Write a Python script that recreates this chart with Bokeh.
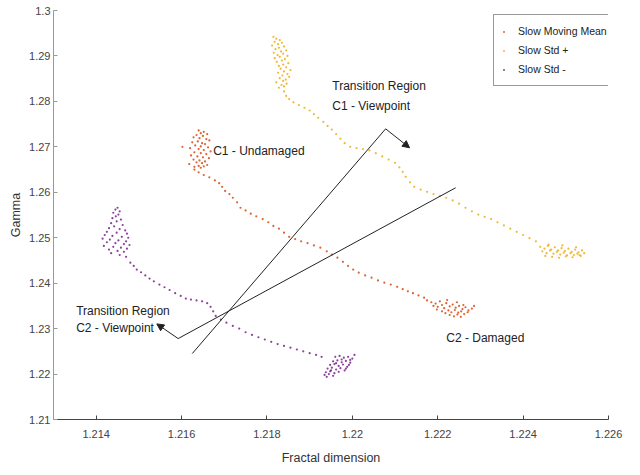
from bokeh.plotting import figure
from bokeh.models import (ColumnDataSource, FixedTicker, CustomJSTickFormatter,
                          Legend, LegendItem, Arrow, NormalHead, Label)
from bokeh.embed import file_html
from bokeh.resources import INLINE

# ---- data: Fractal dimension (x) vs Gamma (y) -----------------------------
# Slow Moving Mean: undamaged cluster, transition trail, damaged cluster
mean_x = [
    1.21640, 1.21652, 1.21645, 1.21660, 1.21635, 1.21650, 1.21628, 1.21642, 1.21658, 1.21665,
    1.21638, 1.21625, 1.21648, 1.21655, 1.21632, 1.21645, 1.21662, 1.21620, 1.21640, 1.21652,
    1.21668, 1.21630, 1.21645, 1.21658, 1.21622, 1.21637, 1.21650, 1.21664, 1.21628, 1.21642,
    1.21655, 1.21635, 1.21648, 1.21618, 1.21660, 1.21640, 1.21652, 1.21630, 1.21645, 1.21602,
    1.21630, 1.21640, 1.21652, 1.21665, 1.21678, 1.21688, 1.21695, 1.21702, 1.21712, 1.21720,
    1.21730, 1.21738, 1.21750, 1.21762, 1.21775, 1.21790, 1.21803, 1.21815, 1.21828, 1.21840,
    1.21852, 1.21866, 1.21880, 1.21895, 1.21910, 1.21925, 1.21940, 1.21952, 1.21965, 1.21978,
    1.21990, 1.22002, 1.22015, 1.22030, 1.22045, 1.22060, 1.22075, 1.22090, 1.22105, 1.22118,
    1.22130, 1.22142, 1.22155, 1.22168,
    1.22175, 1.22185, 1.22195, 1.22205, 1.22210, 1.22220, 1.22228, 1.22235, 1.22242, 1.22250,
    1.22258, 1.22265, 1.22272, 1.22280, 1.22215, 1.22225, 1.22232, 1.22240, 1.22248, 1.22255,
    1.22262, 1.22270, 1.22200, 1.22190, 1.22218, 1.22228, 1.22238, 1.22246, 1.22254, 1.22210,
    1.22198, 1.22260, 1.22245, 1.22222, 1.22285,
]
mean_y = [
    1.2736, 1.2733, 1.2730, 1.2728, 1.2726, 1.2724, 1.2721, 1.2719, 1.2717, 1.2714,
    1.2712, 1.2710, 1.2708, 1.2706, 1.2703, 1.2701, 1.2699, 1.2697, 1.2695, 1.2693,
    1.2690, 1.2688, 1.2686, 1.2684, 1.2681, 1.2679, 1.2677, 1.2675, 1.2672, 1.2670,
    1.2668, 1.2666, 1.2664, 1.2662, 1.2660, 1.2658, 1.2657, 1.2656, 1.2654, 1.2700,
    1.2650, 1.2644, 1.2638, 1.2633, 1.2626, 1.2620, 1.2612, 1.2603, 1.2596, 1.2588,
    1.2578, 1.2566, 1.2560, 1.2553, 1.2547, 1.2541, 1.2534, 1.2526, 1.2520, 1.2511,
    1.2502, 1.2497, 1.2492, 1.2488, 1.2483, 1.2478, 1.2470, 1.2463, 1.2456, 1.2447,
    1.2438, 1.2430, 1.2423, 1.2417, 1.2412, 1.2406, 1.2401, 1.2397, 1.2392, 1.2387,
    1.2382, 1.2378, 1.2373, 1.2368,
    1.2362, 1.2358, 1.2355, 1.2360, 1.2352, 1.2356, 1.2349, 1.2353, 1.2346, 1.2350,
    1.2343, 1.2347, 1.2340, 1.2344, 1.2345, 1.2340, 1.2336, 1.2341, 1.2335, 1.2338,
    1.2332, 1.2336, 1.2348, 1.2350, 1.2334, 1.2330, 1.2327, 1.2331, 1.2326, 1.2338,
    1.2342, 1.2352, 1.2358, 1.2363, 1.2350,
]

# Slow Std +
std_plus_x = [
    1.21815, 1.21822, 1.21830, 1.21818, 1.21835, 1.21826, 1.21812, 1.21840, 1.21828, 1.21820,
    1.21845, 1.21833, 1.21816, 1.21838, 1.21825, 1.21848, 1.21830, 1.21818, 1.21842, 1.21835,
    1.21823, 1.21850, 1.21838, 1.21828, 1.21845, 1.21832, 1.21855, 1.21840, 1.21826, 1.21848,
    1.21836, 1.21852, 1.21830, 1.21844, 1.21838, 1.21822, 1.21846, 1.21834, 1.21840, 1.21828,
    1.21840, 1.21845, 1.21852, 1.21862, 1.21875, 1.21888, 1.21900, 1.21910, 1.21920, 1.21932,
    1.21942, 1.21952, 1.21962, 1.21972, 1.21982, 1.21995, 1.22010, 1.22025, 1.22040, 1.22055,
    1.22070, 1.22085, 1.22100, 1.22110, 1.22118, 1.22125, 1.22135, 1.22145, 1.22160, 1.22175,
    1.22190, 1.22205, 1.22220, 1.22235, 1.22250, 1.22265, 1.22280, 1.22295, 1.22310, 1.22325,
    1.22340, 1.22355, 1.22370, 1.22385, 1.22400, 1.22415, 1.22430,
    1.22440, 1.22450, 1.22458, 1.22466, 1.22474, 1.22482, 1.22490, 1.22498, 1.22506, 1.22514,
    1.22522, 1.22530, 1.22538, 1.22445, 1.22455, 1.22463, 1.22471, 1.22479, 1.22487, 1.22495,
    1.22503, 1.22511, 1.22519, 1.22527, 1.22535, 1.22543, 1.22452, 1.22468, 1.22484, 1.22500,
    1.22516, 1.22532, 1.22460, 1.22492, 1.22524,
]
std_plus_y = [
    1.2942, 1.2938, 1.2935, 1.2931, 1.2929, 1.2926, 1.2923, 1.2921, 1.2918, 1.2915,
    1.2912, 1.2910, 1.2907, 1.2905, 1.2902, 1.2900, 1.2898, 1.2895, 1.2893, 1.2890,
    1.2887, 1.2884, 1.2881, 1.2878, 1.2875, 1.2872, 1.2869, 1.2866, 1.2863, 1.2860,
    1.2857, 1.2854, 1.2851, 1.2848, 1.2845, 1.2842, 1.2839, 1.2836, 1.2833, 1.2830,
    1.2822, 1.2812, 1.2805, 1.2798, 1.2792, 1.2786, 1.2780, 1.2772, 1.2764, 1.2755,
    1.2746, 1.2738, 1.2728, 1.2718, 1.2708, 1.2700, 1.2697, 1.2695, 1.2692, 1.2686,
    1.2679, 1.2672, 1.2665, 1.2655, 1.2645, 1.2634, 1.2622, 1.2612, 1.2606, 1.2601,
    1.2596, 1.2592, 1.2588, 1.2582, 1.2575, 1.2566, 1.2558, 1.2551, 1.2546, 1.2541,
    1.2534, 1.2527, 1.2520, 1.2513, 1.2506, 1.2499, 1.2492,
    1.2480, 1.2476, 1.2482, 1.2474, 1.2479, 1.2472, 1.2477, 1.2471, 1.2476, 1.2469,
    1.2474, 1.2468, 1.2472, 1.2470, 1.2466, 1.2472, 1.2465, 1.2469, 1.2463, 1.2467,
    1.2461, 1.2466, 1.2462, 1.2465, 1.2460, 1.2466, 1.2460, 1.2458, 1.2456, 1.2459,
    1.2457, 1.2462, 1.2485, 1.2483, 1.2479,
]

# Slow Std -
std_minus_x = [
    1.21450, 1.21445, 1.21455, 1.21440, 1.21452, 1.21446, 1.21438, 1.21458, 1.21448, 1.21435,
    1.21462, 1.21442, 1.21430, 1.21455, 1.21468, 1.21425, 1.21448, 1.21472, 1.21420, 1.21438,
    1.21460, 1.21475, 1.21415, 1.21432, 1.21452, 1.21470, 1.21425, 1.21445, 1.21465, 1.21478,
    1.21418, 1.21440, 1.21458, 1.21472, 1.21430, 1.21450, 1.21465, 1.21435, 1.21455, 1.21470,
    1.21480, 1.21488, 1.21495, 1.21505, 1.21515, 1.21525, 1.21535, 1.21548, 1.21560, 1.21572,
    1.21585, 1.21598, 1.21610, 1.21622, 1.21635, 1.21648, 1.21660, 1.21668, 1.21674, 1.21680,
    1.21692, 1.21705, 1.21720, 1.21735, 1.21750, 1.21765, 1.21780, 1.21795, 1.21810, 1.21825,
    1.21840, 1.21855, 1.21870, 1.21885, 1.21900, 1.21915, 1.21928,
    1.21960, 1.21970, 1.21980, 1.21990, 1.22000, 1.21955, 1.21965, 1.21975, 1.21985, 1.21995,
    1.21948, 1.21958, 1.21968, 1.21978, 1.21988, 1.21942, 1.21952, 1.21962, 1.21972, 1.21982,
    1.21938, 1.21948, 1.21958, 1.21968, 1.21935, 1.21945, 1.21955, 1.21940, 1.22005, 1.21995,
    1.21975, 1.21962, 1.21950, 1.21985, 1.21992,
]
std_minus_y = [
    1.2566, 1.2562, 1.2558, 1.2555, 1.2551, 1.2547, 1.2543, 1.2540, 1.2536, 1.2532,
    1.2528, 1.2525, 1.2521, 1.2519, 1.2516, 1.2513, 1.2511, 1.2509, 1.2506, 1.2504,
    1.2502, 1.2500, 1.2498, 1.2496, 1.2494, 1.2492, 1.2490, 1.2488, 1.2486, 1.2484,
    1.2482, 1.2480, 1.2478, 1.2476, 1.2474, 1.2471, 1.2469, 1.2466, 1.2462, 1.2458,
    1.2445, 1.2438, 1.2430, 1.2424, 1.2417, 1.2410, 1.2404, 1.2397, 1.2391, 1.2385,
    1.2378, 1.2372, 1.2366, 1.2364, 1.2362, 1.2360, 1.2356, 1.2348, 1.2338, 1.2328,
    1.2320, 1.2313, 1.2306, 1.2300, 1.2292, 1.2286, 1.2281, 1.2276, 1.2271, 1.2266,
    1.2262, 1.2258, 1.2254, 1.2250, 1.2246, 1.2242, 1.2238,
    1.2238, 1.2240, 1.2236, 1.2238, 1.2234, 1.2228, 1.2230, 1.2226, 1.2229, 1.2225,
    1.2220, 1.2222, 1.2218, 1.2221, 1.2216, 1.2212, 1.2214, 1.2210, 1.2213, 1.2208,
    1.2204, 1.2206, 1.2202, 1.2205, 1.2198, 1.2200, 1.2196, 1.2194, 1.2242, 1.2231,
    1.2232, 1.2224, 1.2208, 1.2212, 1.2220,
]

series_names = ["Slow Moving Mean", "Slow Std +", "Slow Std -"]
series_colors = ["#D95319", "#EDB120", "#7E2F8E"]

x_ticks = [1.214, 1.216, 1.218, 1.220, 1.222, 1.224, 1.226]
y_ticks = [1.21, 1.22, 1.23, 1.24, 1.25, 1.26, 1.27, 1.28, 1.29, 1.30]

# Transition-region guide lines: (x0, y0, x1, y1)
guide_c1 = (1.21625, 1.22451, 1.22078, 1.27396)
guide_c2 = (1.21592, 1.22781, 1.22242, 1.26099)
# Pointer arrows: (tail x, tail y, head x, head y)
arrow_c1 = (1.22078, 1.27396, 1.22134, 1.26979)
arrow_c2 = (1.21592, 1.22781, 1.21542, 1.23104)

# Annotation texts: (x, y, text)
notes = [
    (1.21953, 1.28341, "Transition Region"),
    (1.21953, 1.27901, "C1 - Viewpoint"),
    (1.21353, 1.23396, "Transition Region"),
    (1.21353, 1.23022, "C2 - Viewpoint"),
    (1.21674, 1.26912, "C1 - Undamaged"),
    (1.22220, 1.22802, "C2 - Damaged"),
]

FONT = "Liberation Sans"

p = figure(width=640, height=475, x_range=(1.213, 1.226), y_range=(1.21, 1.30),
           output_backend="svg", toolbar_location=None,
           min_border_left=53, min_border_right=32, min_border_top=10, min_border_bottom=56)
p.outline_line_color = None
p.xgrid.visible = False
p.ygrid.visible = False
p.background_fill_color = "white"
p.border_fill_color = "white"

fmt = CustomJSTickFormatter(code="""
    return tick.toFixed(3).replace(/0+$/, '').replace(/\\.$/, '');
""")

for ax, ticks in ((p.xaxis[0], x_ticks), (p.yaxis[0], y_ticks)):
    ax.ticker = FixedTicker(ticks=ticks)
    ax.formatter = fmt
    ax.major_tick_in = 4
    ax.major_tick_out = 0
    ax.minor_tick_line_color = None
    ax.major_label_text_font = FONT
    ax.major_label_text_font_size = "11px"
    ax.major_label_text_color = "#444444"
    ax.axis_label_text_font = FONT
    ax.axis_label_text_font_style = "normal"
    ax.axis_label_text_color = "#333333"
    ax.axis_label_text_font_size = "12.5px"

p.xaxis.axis_label = "Fractal dimension"
p.xaxis.axis_line_color = "#444444"
p.xaxis.major_tick_line_color = "#444444"
p.xaxis.major_label_standoff = 10
p.xaxis.axis_label_standoff = 10

p.yaxis.axis_label = "Gamma"
p.yaxis.axis_line_color = "#9a9a9a"
p.yaxis.major_tick_line_color = "#9a9a9a"
p.yaxis.major_label_standoff = 3
p.yaxis.axis_label_standoff = 3

renderers = []
for xs, ys, color in ((mean_x, mean_y, series_colors[0]),
                      (std_plus_x, std_plus_y, series_colors[1]),
                      (std_minus_x, std_minus_y, series_colors[2])):
    src = ColumnDataSource(dict(x=xs, y=ys))
    r = p.scatter("x", "y", source=src, size=2.2, marker="circle",
                  fill_color=color, line_color=None, fill_alpha=0.9)
    renderers.append(r)

# guide lines
for x0, y0, x1, y1 in (guide_c1, guide_c2):
    p.line([x0, x1], [y0, y1], line_color="#222222", line_width=1)

# pointer arrows
for x0, y0, x1, y1 in (arrow_c1, arrow_c2):
    p.add_layout(Arrow(x_start=x0, y_start=y0, x_end=x1, y_end=y1,
                       line_color="#222222", line_width=1,
                       end=NormalHead(size=7, fill_color="#222222", line_color="#222222")))

for x, y, t in notes:
    p.add_layout(Label(x=x, y=y, text=t, text_font=FONT, text_font_size="12px",
                       text_color="#222222", text_baseline="middle", text_align="left"))

legend = Legend(items=[LegendItem(label=n, renderers=[r]) for n, r in zip(series_names, renderers)],
                location=(440, 333))
legend.label_text_font = FONT
legend.label_text_font_size = "10.5px"
legend.label_text_color = "#222222"
legend.border_line_color = "#333333"
legend.border_line_width = 1
legend.background_fill_alpha = 1
legend.padding = 7
legend.spacing = 1
legend.glyph_width = 5
legend.glyph_height = 5
legend.label_standoff = 12
legend.label_height = 18
legend.margin = 0
p.add_layout(legend)

open("out.html", "w").write(file_html(p, INLINE))
